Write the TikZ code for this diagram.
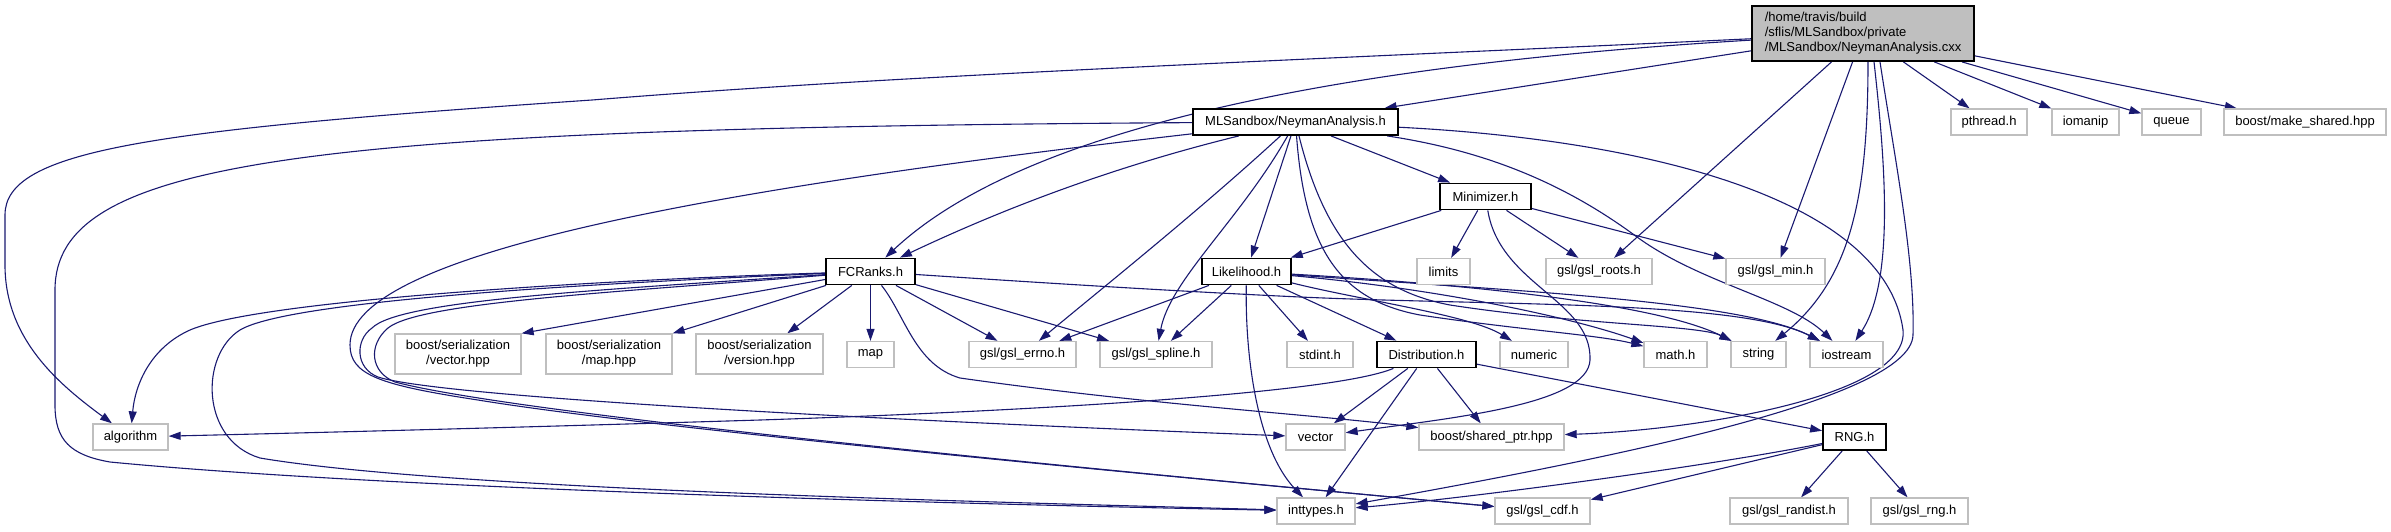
\documentclass[tikz,border=0pt]{standalone}
\usepackage{fontspec}
\setmainfont{Liberation Sans}
\usetikzlibrary{arrows.meta,calc}
\definecolor{edgeblue}{HTML}{191970}
\definecolor{boxgrey}{HTML}{BFBFBF}
\pgfdeclarelayer{bg}
\pgfsetlayers{bg,main}
\tikzset{
  hdr/.style={draw=boxgrey, line width=1.3pt, fill=white, inner sep=0pt, minimum height=26pt, font=\fontsize{13}{15}\selectfont, align=center},
  docn/.style={hdr, draw=black, line width=1.8pt},
  edge/.style={draw=edgeblue, line width=1.1pt, -{Triangle[length=12pt,width=8pt]}},
}
\begin{document}
\begin{tikzpicture}[x=1pt,y=-1pt]
\useasboundingbox (0,0) rectangle (2391,531);
% nodes
\node[docn, fill=boxgrey, minimum width=222pt, minimum height=55pt, align=left] (R) at (1863,33.5) {/home/travis/build\\/sflis/MLSandbox/private\\/MLSandbox/NeymanAnalysis.cxx};
\node[hdr, minimum width=76pt] (pthread) at (1989,122) {pthread.h};
\node[hdr, minimum width=67pt] (iomanip) at (2085.5,122) {iomanip};
\node[hdr, minimum width=59pt] (queue) at (2171.5,122) {queue};
\node[hdr, minimum width=162pt] (mkshared) at (2305,122) {boost/make\_shared.hpp};
\node[docn, minimum width=205pt] (NA) at (1295.5,122) {MLSandbox/NeymanAnalysis.h};
\node[docn, minimum width=91pt] (Min) at (1485.5,196.5) {Minimizer.h};
\node[docn, minimum width=89pt] (FCR) at (870.5,271.5) {FCRanks.h};
\node[docn, minimum width=89pt] (Lik) at (1246.5,271.5) {Likelihood.h};
\node[hdr, minimum width=53pt] (limits) at (1443.5,271.5) {limits};
\node[hdr, minimum width=106pt] (roots) at (1599,271.5) {gsl/gsl\_roots.h};
\node[hdr, minimum width=99pt] (gslmin) at (1775.5,271.5) {gsl/gsl\_min.h};
\node[hdr, minimum width=126pt, minimum height=40pt] (vechpp) at (458,354) {boost/serialization\\/vector.hpp};
\node[hdr, minimum width=126pt, minimum height=40pt] (maphpp) at (609,354) {boost/serialization\\/map.hpp};
\node[hdr, minimum width=127pt, minimum height=40pt] (verhpp) at (759.5,354) {boost/serialization\\/version.hpp};
\node[hdr, minimum width=47pt] (map) at (870.5,354.5) {map};
\node[hdr, minimum width=107pt] (errno) at (1022.5,354.5) {gsl/gsl\_errno.h};
\node[hdr, minimum width=112pt] (spline) at (1156,354.5) {gsl/gsl\_spline.h};
\node[hdr, minimum width=66pt] (stdint) at (1320,354.5) {stdint.h};
\node[docn, minimum width=99pt] (Dist) at (1426.5,354.5) {Distribution.h};
\node[hdr, minimum width=68pt] (numeric) at (1534,354.5) {numeric};
\node[hdr, minimum width=63pt] (math) at (1675.5,354.5) {math.h};
\node[hdr, minimum width=55pt] (string) at (1758.5,354.5) {string};
\node[hdr, minimum width=73pt] (iostream) at (1846.5,354.5) {iostream};
\node[hdr, minimum width=75pt] (alg) at (130.5,437) {algorithm};
\node[hdr, minimum width=59pt] (vector) at (1315.5,437) {vector};
\node[hdr, minimum width=145pt] (shptr) at (1491.5,437) {boost/shared\_ptr.hpp};
\node[docn, minimum width=63pt] (RNG) at (1854.5,437) {RNG.h};
\node[hdr, minimum width=78pt] (inttypes) at (1316,511) {inttypes.h};
\node[hdr, minimum width=95pt] (cdf) at (1542.5,511) {gsl/gsl\_cdf.h};
\node[hdr, minimum width=118pt] (randist) at (1789,511) {gsl/gsl\_randist.h};
\node[hdr, minimum width=97pt] (rng) at (1919.5,511) {gsl/gsl\_rng.h};
% edges
\begin{pgfonlayer}{bg}
% root
\draw[edge] (R) .. controls (1300,60) and (900,75) .. (592,100) .. controls (150,130) and (5,150) .. (5,215) -- (5,265) .. controls (5,340) and (60,385) .. (alg);
\draw[edge] (R) .. controls (1250,70) and (1000,150) .. (FCR);
\draw[edge] (R) -- (NA);
\draw[edge] (R) -- (roots);
\draw[edge] (R) -- (gslmin);
\draw[edge] ($(R.south)+(5,0)$) .. controls (1868,200) and (1850,280) .. (string);
\draw[edge] ($(R.south)+(11,0)$) .. controls (1885,160) and (1895,280) .. (iostream);
\draw[edge] ($(R.south)+(17,0)$) .. controls (1895,160) and (1915,260) .. (1913,335) .. controls (1911,400) and (1600,460) .. (inttypes);
\draw[edge] (R) -- (pthread);
\draw[edge] (R) -- (iomanip);
\draw[edge] (R) -- (queue);
\draw[edge] (R) -- (mkshared);
% NeymanAnalysis.h
\draw[edge] (NA) .. controls (1100,170) and (990,215) .. (FCR);
\draw[edge] (NA) .. controls (300,128) and (55,160) .. (55,290) -- (55,405) .. controls (55,440) and (70,455) .. (110,462) .. controls (400,490) and (1000,505) .. (inttypes);
\draw[edge] (NA) .. controls (700,190) and (350,255) .. (350,345) .. controls (350,375) and (380,385) .. (478,400) .. controls (650,428) and (1100,470) .. (cdf);
\draw[edge] (NA) -- (Lik);
\draw[edge] (NA) -- (Min);
\draw[edge] (NA) .. controls (1200,210) and (1100,290) .. (errno);
\draw[edge] (NA) .. controls (1240,220) and (1170,280) .. (spline);
\draw[edge] (NA) .. controls (1305,250) and (1340,300) .. (1420,315) .. controls (1520,330) and (1600,335) .. (math);
\draw[edge] (NA) .. controls (1325,240) and (1370,290) .. (1450,305) .. controls (1580,325) and (1700,325) .. (string);
\draw[edge] (NA) .. controls (1480,150) and (1560,180) .. (1637,237) .. controls (1700,283) and (1790,300) .. (iostream);
\draw[edge] (NA) .. controls (1650,140) and (1885,200) .. (1903,330) .. controls (1910,395) and (1700,430) .. (shptr);
% FCRanks.h
\draw[edge] (FCR) -- (map);
\draw[edge] (FCR) -- (errno);
\draw[edge] (FCR) -- (spline);
\draw[edge] (FCR) -- (vechpp.north east);
\draw[edge] (FCR) -- (maphpp.north east);
\draw[edge] (FCR) -- (verhpp);
\draw[edge] (FCR) .. controls (905,315) and (915,365) .. (960,378) .. controls (1150,405) and (1320,415) .. (shptr);
\draw[edge] (FCR) .. controls (600,280) and (260,300) .. (190,330) .. controls (150,348) and (135,385) .. (alg);
\draw[edge] (FCR) .. controls (600,283) and (290,300) .. (240,330) .. controls (200,355) and (200,440) .. (260,458) .. controls (450,490) and (1000,502) .. (inttypes);
\draw[edge] (FCR) .. controls (600,290) and (400,300) .. (372,328) .. controls (355,340) and (355,368) .. (378,377) .. controls (450,400) and (1000,425) .. (vector);
\draw[edge] (FCR) .. controls (620,292) and (420,302) .. (388,328) .. controls (368,345) and (370,372) .. (395,382) .. controls (520,415) and (1100,470) .. (cdf);
\draw[edge] (FCR) .. controls (1000,280) and (1150,290) .. (1300,297) .. controls (1500,306) and (1740,300) .. (iostream);
% Likelihood.h
\draw[edge] (Lik) -- (Dist);
\draw[edge] (Lik) -- (errno);
\draw[edge] (Lik) -- (spline);
\draw[edge] (Lik) -- (stdint);
\draw[edge] (Lik) .. controls (1245,360) and (1258,450) .. (inttypes);
\draw[edge] (Lik) .. controls (1360,300) and (1470,315) .. (numeric);
\draw[edge] (Lik) .. controls (1450,290) and (1580,320) .. (math);
\draw[edge] (Lik) .. controls (1480,285) and (1660,305) .. (string);
\draw[edge] (Lik) .. controls (1500,290) and (1740,300) .. (iostream);
% Minimizer.h
\draw[edge] (Min) -- (Lik);
\draw[edge] (Min) -- (limits);
\draw[edge] (Min) -- (roots);
\draw[edge] (Min) -- (gslmin);
\draw[edge] (Min) .. controls (1500,285) and (1592,300) .. (1590,360) .. controls (1588,405) and (1450,418) .. (vector);
% Distribution.h
\draw[edge] (Dist) .. controls (1330,395) and (1000,412) .. (760,420) .. controls (500,428) and (300,433) .. (alg);
\draw[edge] (Dist) -- (vector);
\draw[edge] (Dist) -- (inttypes);
\draw[edge] (Dist) -- (shptr);
\draw[edge] (Dist) -- (RNG);
% RNG.h
\draw[edge] (RNG) -- (randist);
\draw[edge] (RNG) -- (rng);
\draw[edge] (RNG) -- (cdf);
\draw[edge] (RNG) .. controls (1700,468) and (1450,500) .. (inttypes);
\end{pgfonlayer}
\end{tikzpicture}
\end{document}
